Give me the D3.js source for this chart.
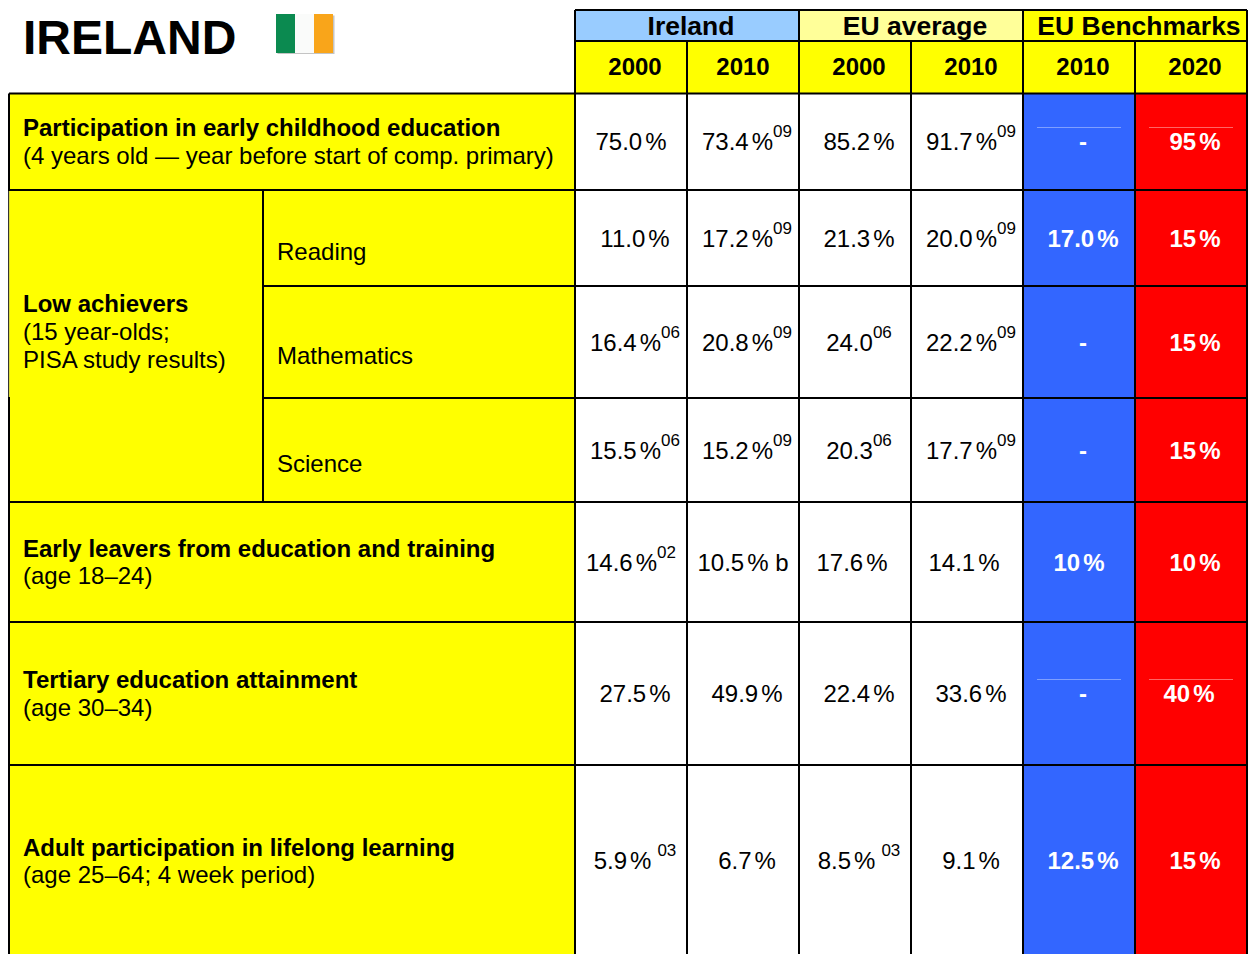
<!DOCTYPE html>
<html><head><meta charset="utf-8">
<script src="https://cdn.jsdelivr.net/npm/d3@7/dist/d3.min.js"></script>
<style>html,body{margin:0;padding:0;background:#fff;overflow:hidden}svg{display:block}text{font-family:"Liberation Sans",Arial,sans-serif}</style>
</head><body><div id="c"></div>
<script>
const groups = ["Ireland","EU average","EU Benchmarks"];
const years = ["2000","2010","2000","2010","2010","2020"];
const ireland2000 = ["75.0%","11.0%","16.4%","15.5%","14.6%","27.5%","5.9%"];
const ireland2000Notes = ["","","06","06","02","","03"];
const ireland2010 = ["73.4%","17.2%","20.8%","15.2%","10.5% b","49.9%","6.7%"];
const ireland2010Notes = ["09","09","09","09","","",""];
const eu2000 = ["85.2%","21.3%","24.0","20.3","17.6%","22.4%","8.5%"];
const eu2000Notes = ["","","06","06","","","03"];
const eu2010 = ["91.7%","20.0%","22.2%","17.7%","14.1%","33.6%","9.1%"];
const eu2010Notes = ["09","09","09","09","","",""];
const bench2010 = ["-","17.0%","-","-","10%","-","12.5%"];
const bench2020 = ["95%","15%","15%","15%","10%","40%","15%"];
const rowTitles = ["Participation in early childhood education","Early leavers from education and training","Tertiary education attainment","Adult participation in lifelong learning"];
const rowSubtitles = ["(4 years old \u2014 year before start of comp. primary)","(age 18\u201324)","(age 30\u201334)","(age 25\u201364; 4 week period)"];
const lowTitle = "Low achievers";
const lowLines = ["(15 year-olds;","PISA study results)"];
const lowDomains = ["Reading","Mathematics","Science"];

// layout
const W=1248,H=954;
const rowEdges=[93.5,190,286,398,502,622,765,1000];
const rowTextY=[150,247,351,459,571,702,869];
// horizontal nudges of each value text, per column and row
const valueDx=[[0,4,4,4,0,4,4],[4,4,4,4,0,4,4],[4,4,4,4,-3,4,4],[4,4,4,4,-3,4,4]];
const colX=d3.scaleLinear().domain([0,6]).range([575,1247]);
const svg=d3.select("#c").append("svg").attr("width",W).attr("height",H);
const LW=2;
const rect=(x0,y0,x1,y1,f)=>svg.append("rect").attr("x",x0).attr("y",y0).attr("width",x1-x0).attr("height",y1-y0).attr("fill",f);
const line=(x1,y1,x2,y2,c="#000",w=LW)=>svg.append("line").attr("x1",x1).attr("y1",y1).attr("x2",x2).attr("y2",y2).attr("stroke",c).attr("stroke-width",w);
const txt=(x,y,s,o={})=>svg.append("text").attr("x",x).attr("y",y).attr("font-size",o.size||24).attr("font-weight",o.bold?"bold":"normal").attr("fill",o.fill||"#000").attr("text-anchor",o.anchor||"start").text(s);

// backgrounds
const YEL="#ffff00";
rect(9,rowEdges[0],575,H,YEL);
rect(colX(0),10,colX(2),41,"#99ccff");
rect(colX(2),10,colX(4),41,"#ffff99");
rect(colX(4),10,colX(6),41,YEL);
rect(colX(0),41,colX(6),rowEdges[0],YEL);
rect(colX(4),rowEdges[0],colX(5),H,"#3366ff");
rect(colX(5),rowEdges[0],colX(6),H,"#ff0000");

// title + flag
txt(23,54,"IRELAND",{size:48,bold:true});
const flagX=d3.scaleBand().domain(["#0b8a50","#fafbfa","#f9a51a"]).range([276,333]);
svg.append("rect").attr("x",277.5).attr("y",15.5).attr("width",57).attr("height",38.5).attr("fill","#c4c4c4");
flagX.domain().forEach(c=>rect(flagX(c),14,flagX(c)+flagX.bandwidth(),53,c));

// header text
[691,915,1139].forEach((x,i)=>txt(x,35,groups[i],{size:26.5,bold:true,anchor:"middle"}));
years.forEach((y,i)=>txt(colX(i)+(i==1?56:60),75,y,{size:24,bold:true,anchor:"middle"}));

// cells
function cell(col,row,val,note,o={}){
  const t=svg.append("text").attr("y",rowTextY[row]).attr("font-size",24).attr("text-anchor","middle")
    .attr("font-weight",o.bold?"bold":"normal").attr("fill",o.fill||"#000").attr("x",colX(col)+56+(o.dx||0));
  const m=val.match(/^(.*?)(%)(.*)$/);
  if(m){t.append("tspan").text(m[1]);t.append("tspan").attr("dx",3).text("%"+m[3]);}
  else t.text(val);
  if(note)t.append("tspan").attr("dy",-13).attr("dx",o.noteDx||0).attr("font-size",17).text(note);
}
[[ireland2000,ireland2000Notes],[ireland2010,ireland2010Notes],[eu2000,eu2000Notes],[eu2010,eu2010Notes]].forEach(([vals,notes],c)=>{
  vals.forEach((v,r)=>cell(c,r,v,notes[r],{dx:valueDx[c][r],noteDx:r==6?6:0}));
});
bench2010.forEach((v,r)=>cell(4,r,v,"",{bold:true,fill:"#fff",dx:r==4?0:4}));
bench2020.forEach((v,r)=>cell(5,r,v,"",{bold:true,fill:"#fff",dx:r==5?-2:4}));

// faint rules
[127.5,679.5].forEach(y=>{
  line(1037,y,1121,y,"#7f9fff",1);
  line(1149,y,1233,y,"#ff6666",1);
});

// row labels
const lbl=[[0,136,164],[1,557,584],[2,688,716],[3,856,883]];
lbl.forEach(([i,a,b])=>{txt(23,a,rowTitles[i],{bold:true});txt(23,b,rowSubtitles[i]);});
txt(23,312,lowTitle,{bold:true});
txt(23,340,lowLines[0]);txt(23,368,lowLines[1]);
[260,364,472].forEach((y,i)=>txt(277,y,lowDomains[i]));

// grid
line(9,rowEdges[0],colX(6),rowEdges[0]);
[1,4,5,6].forEach(i=>line(9,rowEdges[i],colX(6),rowEdges[i]));
[2,3].forEach(i=>{line(263,rowEdges[i],colX(6),rowEdges[i]);});
line(9,rowEdges[0],9,H);
// the left border is thinner beside the upper part of the "Low achievers" cell
rect(8,191,9,397,"#333");
rect(9,191,10,397,"#dcdc30");
line(263,rowEdges[1],263,rowEdges[4]);
d3.range(0,7).forEach(i=>line(colX(i),i%2==0?10:41,colX(i),H));
line(colX(0),10,colX(6),10);
line(colX(0),41,colX(6),41);
</script></body></html>
